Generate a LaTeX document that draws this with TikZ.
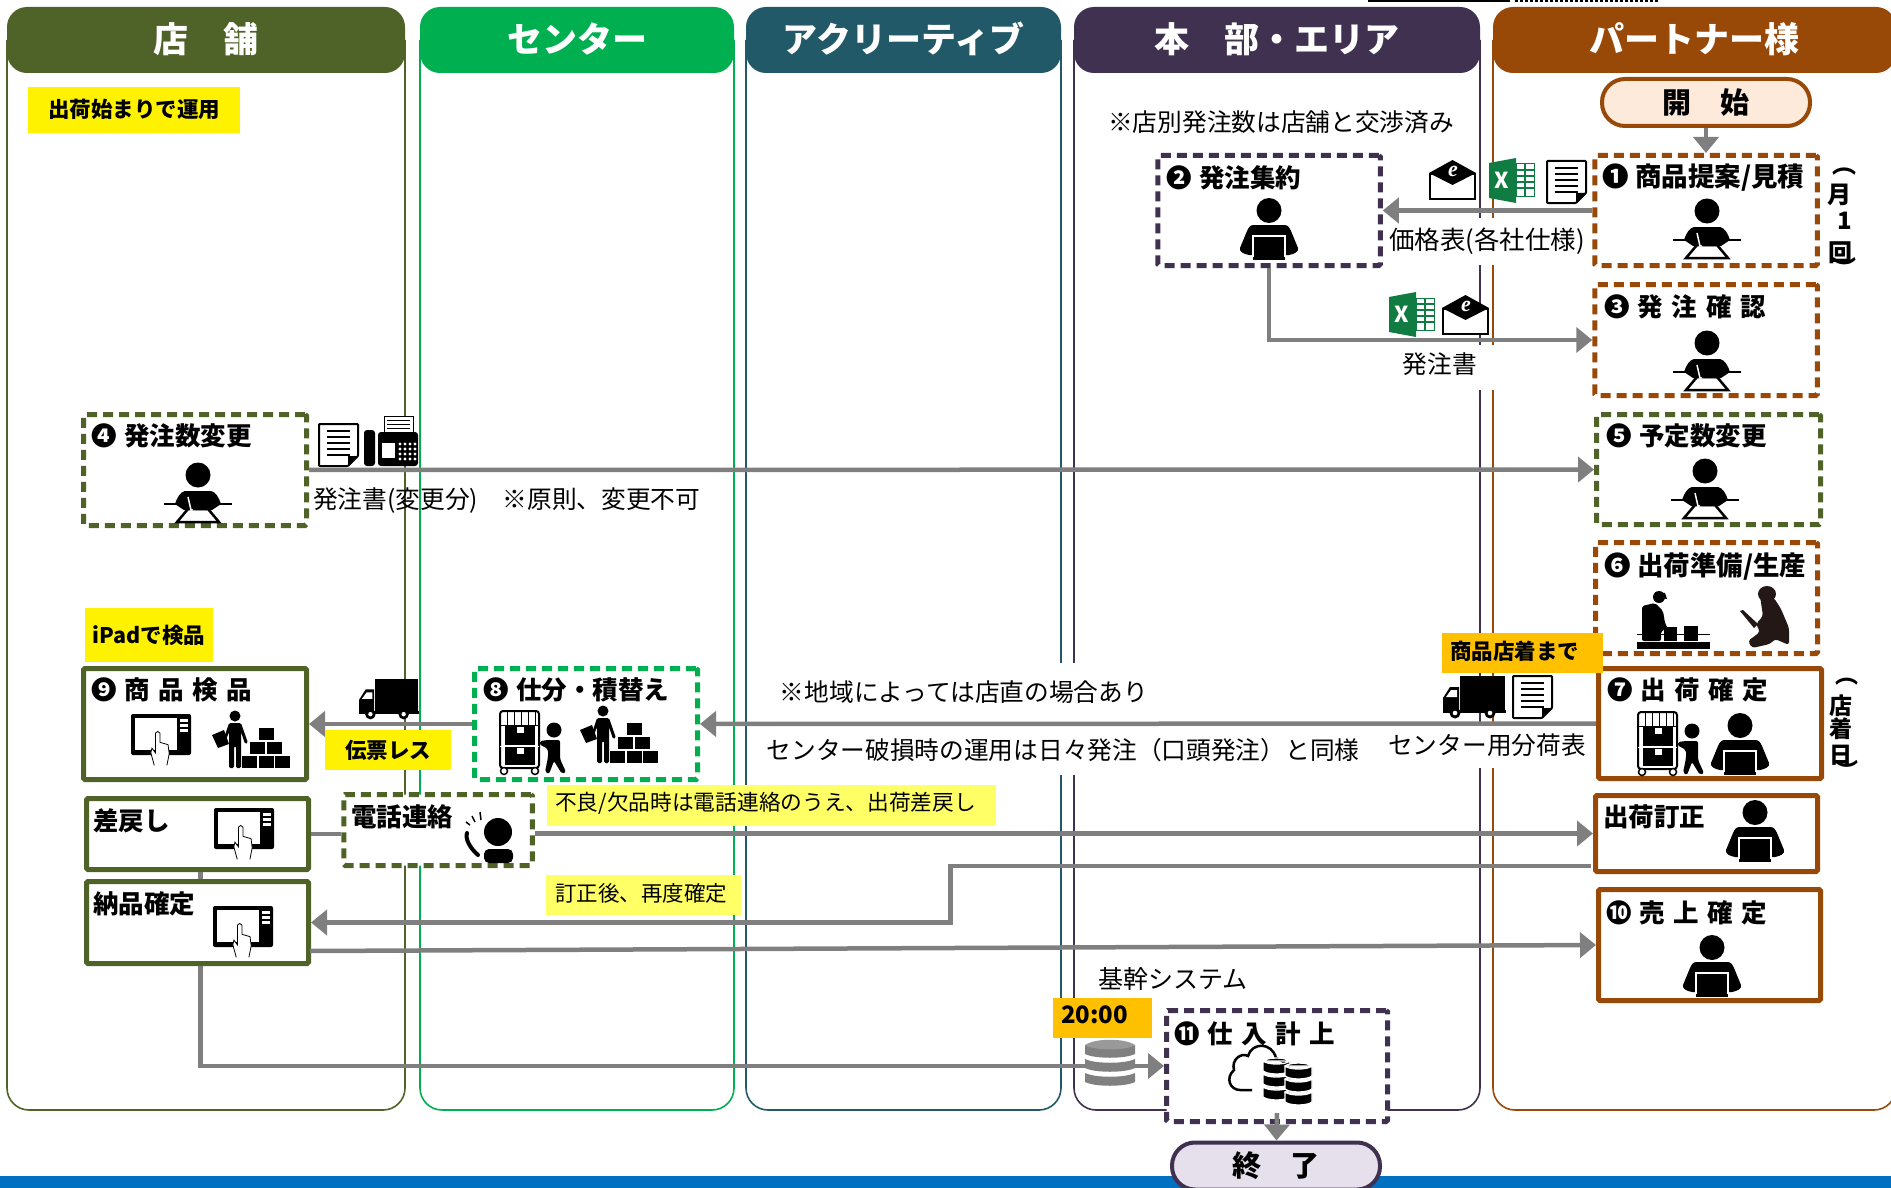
\documentclass[tikz,border=0pt]{standalone}
\usepackage{fontspec}
\setmainfont{Noto Sans CJK JP}
\newfontfamily\iconfont{Liberation Serif}
\usetikzlibrary{arrows.meta,calc}

\definecolor{shopcol}{HTML}{4F6228}
\definecolor{centercol}{HTML}{00B050}
\definecolor{tealcol}{HTML}{215968}
\definecolor{hqcol}{HTML}{403151}
\definecolor{partnercol}{HTML}{984807}
\definecolor{flowcol}{HTML}{7F7F7F}
\definecolor{notecol}{HTML}{FFFF66}
\definecolor{timecol}{HTML}{FFC000}
\definecolor{xlscol}{HTML}{107C41}
\definecolor{bandcol}{HTML}{0070C0}
\definecolor{startcol}{HTML}{FDEADA}
\definecolor{goalcol}{HTML}{E6E0EC}
\definecolor{silhouette}{HTML}{231815}

\newcommand{\fs}[1]{\fontsize{#1}{#1}\selectfont}
\newcommand{\num}[1]{\makebox[33pt][l]{#1}}
\newcommand{\spc}[5]{\makebox[#1pt][s]{#2\hfill#3\hfill#4\hfill#5}}

\tikzset{
    stepbox/.style={draw, fill=white, line width=5pt, rounded corners=1.5pt, inner sep=0pt},
    dashbox/.style={stepbox, dash pattern=on 10pt off 6pt},
    endbox/.style={draw=#1, line width=4pt, rounded corners=23pt, minimum width=208pt, minimum height=47pt,
        inner sep=0pt, font=\fs{29}\bfseries},
    lanehead/.style={rounded corners=20pt, minimum height=66pt, inner sep=0pt, text=white, font=\fs{35}\bfseries},
    steptitle/.style={anchor=west, inner sep=0pt, font=\fs{25.5}\bfseries},
    note/.style={anchor=west, inner sep=0pt, font=\fs{24.7}},
    whitenote/.style={fill=white, inner sep=0pt, font=\fs{24.7}},
    tag/.style={inner sep=0pt, font=\fs{21.5}\bfseries},
    side/.style={inner sep=0pt, font=\bfseries},
    flow/.style={draw=flowcol, line width=4.5pt},
    flowto/.style={flow, -{Triangle[length=16pt,width=25pt]}},
    personpc/.pic={
        \fill (0,12.5) circle (12.5);
        \fill (-15,27) -- (15,27) .. controls (19,27) and (20,29) .. (22,33) -- (29,50)
            .. controls (30,54) and (25,56) .. (20,57) -- (-20,57)
            .. controls (-25,56) and (-30,54) .. (-29,50) -- (-22,33)
            .. controls (-20,29) and (-19,27) .. (-15,27) -- cycle;
        \draw[white, line width=1.2pt, fill=black] (-16,38) rectangle (16,60);
        \fill (-16,59) rectangle (16,62);
    },
    persondesk/.pic={
        \fill (0,12) circle (12.5);
        \fill (-13,28) -- (13,28) .. controls (18,29) and (21,35) .. (23,41) -- (14,47) -- (-14,47) -- (-23,41)
            .. controls (-21,35) and (-18,29) .. (-13,28) -- cycle;
        \draw[line width=2.5pt] (-34,41) -- (34,41);
        \draw[line width=2.5pt, fill=white] (-21,59) -- (21,59) -- (10,46) -- (-10,46) -- cycle;
        \draw[white, line width=1.5pt] (-10,34) -- (-7,47) -- (6,45);
        \fill (-7,42) -- (9,39) -- (10,47) -- (-5,47) -- cycle;
    },
    handicon/.pic={
        \draw[fill=white, line width=.8pt] (-5,29) -- (-8,18) -- (-7,14) -- (-4,18) -- (-4,1)
            .. controls (-3,-1) and (-1,-1) .. (0,1) -- (0,9) -- (7,11) -- (8,19) -- (6,29);
    },
    tablet/.pic={
        \fill[rounded corners=2pt] (0,0) rectangle (60,41);
        \fill[white] (3.5,3.5) rectangle (46,36);
        \foreach \yy in {5,10,15} {\fill[white] (49,\yy) rectangle (57,\yy+3);}
        \pic[scale=1.15] at (29,18) {handicon};
    },
    truck/.pic={
        \fill (17,0) rectangle (62,34);
        \fill (0,35) -- (0,22) -- (7,11) -- (16,11) -- (16,35) -- cycle;
        \fill[white] (3,21) -- (8,14) -- (14,14) -- (14,21) -- cycle;
        \fill (0,34) rectangle (63,37);
        \foreach \xx in {12,47} {
            \fill (\xx,37) circle (5.5);
            \fill[white] (\xx,37) circle (2.3);
        }
    },
    docicon/.pic={
        \draw[line width=2pt, fill=white, rounded corners=.8pt] (0,0) -- (39,0) -- (39,32) -- (29,42) -- (0,42) -- cycle;
        \foreach \yy in {7,13,19,25,31} {\draw[line width=1.4pt] (8,\yy) -- (31,\yy);}
        \fill (29,42) -- (39,32) -- (29,32) -- cycle;
    },
    mailicon/.pic={
        \draw[line width=2pt, fill=white] (1,14) rectangle (46,39);
        \fill (0,13) -- (23.5,0) -- (47,13) -- (23.5,25) -- cycle;
        \node[white, inner sep=0pt, font=\iconfont\itshape\bfseries\fs{22}] (mailE) at (24,11) {e};
    },
    xlsicon/.pic={
        \draw[xlscol, line width=1pt, fill=white] (27,6) rectangle (45,38);
        \foreach \yy in {12,18,24,30} {\draw[xlscol, line width=1.6pt] (27,\yy) -- (45,\yy);}
        \draw[xlscol, line width=1.2pt] (36,6) -- (36,38);
        \fill[xlscol] (0,5) -- (27,0) -- (27,45) -- (0,40) -- cycle;
        \node[white, inner sep=0pt, font=\fs{22}\bfseries] (xlsX) at (13,22) {X};
    },
    faxicon/.pic={
        \draw[line width=1pt, fill=white] (20,0) rectangle (49,17);
        \foreach \yy in {4,8,12} {\draw[line width=1pt] (23,\yy) -- (46,\yy);}
        \fill[rounded corners=3pt] (0,14) rectangle (11,50);
        \fill[rounded corners=3pt] (14,16) rectangle (54,50);
        \fill[white] (18,27) rectangle (31,42);
        \foreach \xx in {36,41,46,51} {
            \foreach \yy in {28,33,38,43} {\fill[white] (\xx,\yy) circle (1.6);}
        }
    },
    cartman/.pic={
        \draw[line width=2pt, rounded corners=3pt] (1,1) rectangle (40,58);
        \foreach \xx in {8,15,22,29,36} {\draw[line width=1pt] (\xx,1) -- (\xx,15);}
        \fill (6,16) rectangle (36,35);
        \fill (6,37) rectangle (36,55);
        \draw[line width=1pt] (1,15) -- (40,15);
        \draw[white, line width=1pt] (1,36) -- (40,36);
        \foreach \yy in {17,38} {\fill[white] (18,\yy) rectangle (25,\yy+6);}
        \foreach \xx in {5,36} {\draw[line width=1.5pt, fill=white] (\xx,61) circle (3.5);}
        \fill (55,20) circle (7.5);
        \fill[rounded corners=2pt] (49,30) -- (61,30) -- (61,49) -- (67,62) -- (63,64) -- (55,51) -- (50,64) -- (46,62) -- (49,47) -- (49,39) -- (40,34) -- (41,31) -- cycle;
    },
    workerbox/.pic={
        \fill (23,6) circle (5.5);
        \fill[rounded corners=1.5pt] (17,13) -- (29,13) -- (36,33) -- (33,34) -- (29,22) -- (29,58) -- (24,58) -- (24,36) -- (22,36) -- (22,58) -- (17,58) -- (17,22) -- (14,30) -- (12,28) -- cycle;
        \fill (0,25) -- (12,20) -- (17,34) -- (6,38) -- cycle;
        \foreach \xx/\yy in {47/18, 38/32, 55/32, 30/46, 47/46, 63/46} {\fill (\xx,\yy) rectangle (\xx+15,\yy+12);}
    },
    phoneman/.pic={
        \fill (37,20) ellipse (14 and 14);
        \fill[rounded corners=5pt] (23,51) -- (23,37) -- (52,37) -- (52,51) -- cycle;
        \draw[line width=4pt, line cap=round] (6,21) .. controls (4,27) and (9,36) .. (17,43);
        \draw[line width=1.5pt] (5,10) -- (9,13) (11,4) -- (14,10) (19,0) -- (20,8);
    },
    packer/.pic={
        \fill (22,6) circle (6);
        \fill (18,1) -- (28,2) -- (30,8) -- (20,6) -- cycle;
        \fill[rounded corners=2pt] (5,15) -- (18,12) -- (26,20) -- (28,32) -- (31,38) -- (24,40) -- (24,50) -- (5,50) -- cycle;
        \fill (0,51) rectangle (73,58);
        \draw[line width=1pt] (0,43) -- (73,43);
        \fill (27,36) rectangle (40,50);
        \fill (47,35) rectangle (61,50);
    },
    cutter/.pic={
        \fill[silhouette] (27,8) ellipse (9 and 8);
        \fill[silhouette, rounded corners=3pt] (20,10) -- (34,12) -- (41,23) -- (49,42) -- (49,59) -- (35,53) -- (30,58) -- (12,62) -- (8,55) -- (20,46) -- (16,38) -- (23,30) -- cycle;
        \fill[silhouette] (0,25) -- (3,24) -- (18,38) -- (14,42) -- cycle;
    },
    clouddb/.pic={
        \draw[line width=2.5pt, fill=white] (24,48) -- (12,48) .. controls (2,48) and (-3,36) .. (6,28)
            .. controls (3,18) and (13,10) .. (20,14) .. controls (24,0) and (44,0) .. (48,16) .. controls (54,18) and (60,22) .. (60,27);
        \foreach \xx/\yy in {35/19, 57/24} {
            \foreach \k in {26,13,0} {
                \draw[white, line width=1.3pt, fill=black] (\xx,\yy+\k) -- (\xx,\yy+\k+10) .. controls (\xx+5,\yy+\k+14) and (\xx+22,\yy+\k+14) .. (\xx+27,\yy+\k+10) -- (\xx+27,\yy+\k) .. controls (\xx+22,\yy+\k+4) and (\xx+5,\yy+\k+4) .. (\xx,\yy+\k) .. controls (\xx+5,\yy+\k-4) and (\xx+22,\yy+\k-4) .. (\xx+27,\yy+\k) -- cycle;
            }
        }
    },
    dbicon/.pic={
        \foreach \k in {28,14,0} {
            \shade[left color=black!50, middle color=black!6, right color=black!50]
                (0,\k+5) -- (0,\k+14) .. controls (10,\k+19) and (40,\k+19) .. (50,\k+14) -- (50,\k+5)
                .. controls (40,\k+10) and (10,\k+10) .. (0,\k+5) -- cycle;
        }
        \shade[left color=black!40, middle color=white, right color=black!40]
            (0,5) .. controls (10,-2) and (40,-2) .. (50,5) .. controls (40,11) and (10,11) .. (0,5) -- cycle;
    },
}

\begin{document}
\begin{tikzpicture}[x=1pt, y=-1pt]
    \useasboundingbox (0,0) rectangle (1891,1188);
    \clip (0,0) rectangle (1891,1188);

    % top edge and bottom band
    \draw[line width=2.5pt] (1369,-30) rectangle (1509,1);
    \draw[line width=2.5pt, dash pattern=on 3pt off 2pt] (1516,-30) rectangle (1658,1);
    \fill[bandcol] (0,1176) rectangle (1891,1188);

    % lanes
    \foreach \nm/\xa/\xb/\col/\ttl in {shop/7/405/shopcol/店　舗, center/420/734/centercol/センター,
        accr/746/1061/tealcol/アクリーティブ, hq/1074/1480/hqcol/本　部・エリア, partner/1493/1896/partnercol/パートナー様} {
        \draw[\col, line width=1.6pt, rounded corners=22pt] (\xa,40) -- (\xa,1110) -- (\xb,1110) -- (\xb,40);
        \node[lanehead, fill=\col, minimum width={(\xb-\xa)*1pt}] (head\nm) at ({(\xa+\xb)/2},40) {\raisebox{5pt}{\ttl}};
    }

    % texts that mask the lane lines
    \node[whitenote, font=\fs{25.5}, minimum width=204pt, minimum height=47pt] (kakakuT) at (1487,241.5) {価格表(各社仕様)};
    \node[whitenote, minimum width=110pt, minimum height=45pt] (hatchuT) at (1440,367.5) {\raisebox{8pt}{発注書}};
    \node[whitenote, minimum width=388pt, minimum height=59pt] (chiikiT) at (964,692.5) {\raisebox{-5pt}{※地域によっては店直の場合あり}};
    \node[whitenote, minimum width=600pt, minimum height=50pt] (hasonT) at (1063,750) {センター破損時の運用は日々発注（口頭発注）と同様};
    \node[whitenote, minimum width=204pt, minimum height=43pt] (bunT) at (1487,746) {\raisebox{3pt}{センター用分荷表}};

    % boxes
    \node[endbox=partnercol, fill=startcol] (start) at (1706,102.5) {開　始};
    \node[dashbox, draw=partnercol, minimum width=222.5pt, minimum height=110pt] (teian) at (1706,210.5) {};
    \node[dashbox, draw=hqcol, minimum width=222.5pt, minimum height=110pt] (shuyaku) at (1269,210.5) {};
    \node[dashbox, draw=partnercol, minimum width=222.5pt, minimum height=111pt] (kakunin) at (1706,340) {};
    \node[dashbox, draw=shopcol, minimum width=223pt, minimum height=111pt] (henko) at (195,470) {};
    \node[dashbox, draw=shopcol, minimum width=224pt, minimum height=110pt] (yotei) at (1708.5,469.5) {};
    \node[dashbox, draw=partnercol, minimum width=222pt, minimum height=111pt] (junbi) at (1706.5,598) {};
    \node[stepbox, draw=partnercol, minimum width=223pt, minimum height=110pt] (kakutei) at (1710,723.5) {};
    \node[dashbox, draw=centercol, minimum width=223pt, minimum height=111pt] (shiwake) at (586,724) {};
    \node[stepbox, draw=shopcol, minimum width=223pt, minimum height=111pt] (kenpin) at (195,724) {};
    \node[stepbox, draw=shopcol, minimum width=222pt, minimum height=71pt] (sashi) at (197.5,834) {};
    \node[stepbox, draw=shopcol, minimum width=222pt, minimum height=82pt] (nohin) at (197.5,922.5) {};
    \node[dashbox, draw=shopcol, minimum width=188.5pt, minimum height=71pt] (denwa) at (438,830) {};
    \node[stepbox, draw=partnercol, minimum width=222pt, minimum height=76pt] (teisei) at (1706.5,833.5) {};
    \node[stepbox, draw=partnercol, minimum width=222pt, minimum height=111pt] (uriage) at (1709.5,945) {};
    \node[dashbox, draw=hqcol, minimum width=221pt, minimum height=111pt] (kanjo) at (1277,1066) {};
    \node[endbox=hqcol, fill=goalcol] (goal) at (1276,1166) {終　了};

    % free ends
    \coordinate (retA) at (1591,866);
    \coordinate (retB) at (950.6,866);
    \coordinate (nohinOut) at (310,951);

    % connectors
    \draw[flowto] (start) -- (teian);
    \draw[flowto] (teian) -- (shuyaku);
    \draw[flowto] (shuyaku) |- (kakunin);
    \draw[flowto] (henko) -- (yotei);
    \draw[flowto] (kakutei) -- (shiwake);
    \draw[flowto] (shiwake) -- (kenpin);
    \draw[flow] (sashi.east) -- (denwa.west |- sashi.east);
    \draw[flowto] (denwa.east |- teisei.west) -- (teisei.west);
    \draw[flowto] (retA) -- (retB) |- (nohin.east);
    \draw[flowto] (nohinOut) -- (uriage.west);
    \draw[flow] ([xshift=3pt]sashi.south) -- ([xshift=3pt]nohin.north);
    \draw[flowto] ([xshift=3pt]nohin.south) |- (kanjo.west);
    \draw[flowto] ([yshift=11pt]kanjo.south) -- (goal);

    % box titles
    \node[steptitle, font=\fs{26.5}\bfseries] (teianT) at (1602,178) {\num{❶}商品提案/見積};
    \node[steptitle] (shuyakuT) at (1166,178) {\num{❷}発注集約};
    \node[steptitle] (kakuninT) at (1604,307) {\num{❸}\spc{129}{発}{注}{確}{認}};
    \node[steptitle] (henkoT) at (91,436) {\num{❹}発注数変更};
    \node[steptitle] (yoteiT) at (1606,436) {\num{❺}予定数変更};
    \node[steptitle, font=\fs{26.5}\bfseries] (junbiT) at (1604,566.5) {\num{❻}出荷準備/生産};
    \node[steptitle] (kakuteiT) at (1607,690) {\num{❼}\spc{128}{出}{荷}{確}{定}};
    \node[steptitle] (shiwakeT) at (483,690) {\num{❽}仕分・積替え};
    \node[steptitle] (kenpinT) at (91,690) {\num{❾}\spc{128}{商}{品}{検}{品}};
    \node[steptitle] (sashiT) at (93,821) {差戻し};
    \node[steptitle] (nohinT) at (93,904) {納品確定};
    \node[steptitle] (denwaT) at (351,817) {電話連絡};
    \node[steptitle] (teiseiT) at (1603,817) {出荷訂正};
    \node[steptitle] (uriageT) at (1606,913) {\num{❿}\spc{128}{売}{上}{確}{定}};
    \node[steptitle] (kanjoT) at (1174,1034) {\num{⓫}\spc{128}{仕}{入}{計}{上}};

    % plain notes
    \node[note] (kosho) at (1108,122) {※店別発注数は店舗と交渉済み};
    \node[note] (henkoN) at (313,500.5) {発注書(変更分)　※原則、変更不可};
    \node[note, font=\fs{25}] (kikan) at (1098,979) {基幹システム};

    % coloured labels
    \node[tag, fill=yellow, minimum width=212pt, minimum height=46pt] (unyo) at (134,110) {\raisebox{4pt}{出荷始まりで運用}};
    \node[tag, fill=yellow, minimum width=128pt, minimum height=54pt] (ipad) at (149,635) {\raisebox{-3pt}{iPadで検品}};
    \node[tag, fill=yellow, minimum width=126pt, minimum height=40pt] (denpyo) at (388,750) {伝票レス};
    \node[fill=timecol, minimum width=161pt, minimum height=40pt, inner sep=0pt] (chaku) at (1522.5,653) {};
    \node[tag, anchor=west] (chakuT) at (1450,651) {商品店着まで};
    \node[fill=timecol, minimum width=99pt, minimum height=40pt, inner sep=0pt] (jikoku) at (1102.5,1018) {};
    \node[tag, anchor=west, font=\fs{24}\bfseries] (jikokuT) at (1061,1015) {20:00};
    \node[fill=notecol, minimum width=449pt, minimum height=41pt, inner sep=0pt] (furyo) at (771.5,805.5) {};
    \node[note, font=\fs{21.7}] (furyoT) at (555,803) {不良/欠品時は電話連絡のうえ、出荷差戻し};
    \node[fill=notecol, minimum width=195pt, minimum height=40pt, inner sep=0pt] (teiseiN) at (643.5,895) {};
    \node[note, font=\fs{21.5}] (teiseiNT) at (555,893) {訂正後、再度確定};

    % vertical side notes
    \foreach \nm/\txt/\xx/\yy in {a/︵/1844/172, b/月/1839/195, c/1/1845/221, d/回/1840/253, e/︶/1844/267} {
        \node[side, font=\fs{24}\bfseries] (tsuki\nm) at (\xx,\yy) {\txt};
    }
    \foreach \nm/\txt/\xx/\yy in {a/︵/1847/682, b/店/1841/706, c/着/1841/729, d/日/1841/755, e/︶/1847/770} {
        \node[side, font=\fs{23}\bfseries] (tenchaku\nm) at (\xx,\yy) {\txt};
    }

    % icons
    \pic at (1429,160) {mailicon};
    \pic at (1489,158) {xlsicon};
    \pic at (1547,161) {docicon};
    \pic at (1389,292) {xlsicon};
    \pic at (1442,295) {mailicon};
    \pic at (319,424) {docicon};
    \pic at (364,416) {faxicon};
    \pic at (1443,676) {truck};
    \pic at (1513,676) {docicon};
    \pic[scale=.95] at (359,679) {truck};
    \pic at (1269,198) {personpc};
    \pic at (1707,199) {persondesk};
    \pic at (1707,331) {persondesk};
    \pic at (198,463) {persondesk};
    \pic at (1705,459) {persondesk};
    \pic at (1637,591) {packer};
    \pic at (1740,586) {cutter};
    \pic at (1637,711) {cartman};
    \pic at (1740,713) {personpc};
    \pic at (499,710) {cartman};
    \pic at (580,705) {workerbox};
    \pic at (131,714) {tablet};
    \pic at (212,710) {workerbox};
    \pic at (214,808) {tablet};
    \pic at (213,906) {tablet};
    \pic at (461,812) {phoneman};
    \pic at (1755,800) {personpc};
    \pic at (1712,935) {personpc};
    \pic at (1085,1040) {dbicon};
    \pic at (1228,1042) {clouddb};
\end{tikzpicture}
\end{document}
